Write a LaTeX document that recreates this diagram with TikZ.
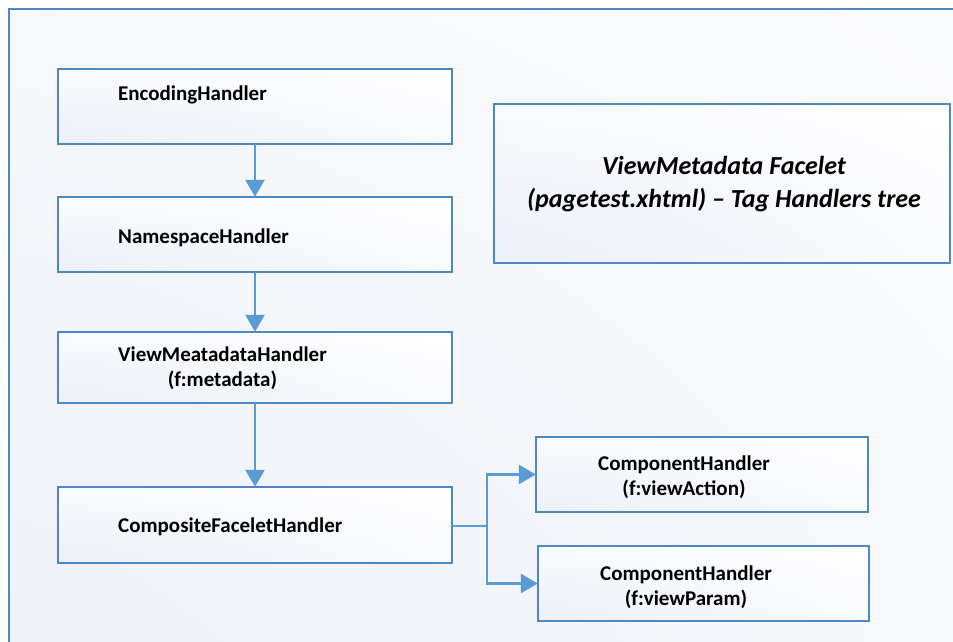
\documentclass[tikz,border=0pt]{standalone}
\usepackage{fontspec}
\setmainfont{Carlito}
\usetikzlibrary{arrows.meta}
\definecolor{lineblue}{HTML}{5B9BD5}
\definecolor{boxedge}{HTML}{4F87C2}
\definecolor{shadeblue}{HTML}{E2E8F4}
\definecolor{frameblue}{HTML}{E6EBF5}
\pgfdeclareradialshading{boxglow}{\pgfpoint{-50bp}{-50bp}}{color(0bp)=(shadeblue); color(75bp)=(white); color(200bp)=(white)}
\pgfdeclareradialshading{frameglow}{\pgfpoint{-50bp}{-50bp}}{color(0bp)=(frameblue); color(90bp)=(white); color(200bp)=(white)}
\tikzset{
  hbox/.style={draw=boxedge, line width=2pt, shading=boxglow},
  lbl/.style={font=\bfseries\fontsize{21}{25}\selectfont, align=center, inner sep=0pt},
  conn/.style={draw=lineblue, line width=2.8pt, -{Triangle[width=19pt,length=17pt]}},
  wire/.style={draw=lineblue, line width=2.8pt},
  anchorbox/.style={inner sep=0pt}
}
\begin{document}
\begin{tikzpicture}[x=1pt,y=-1pt]
\useasboundingbox (0,0) rectangle (953,642);
\begin{scope}
\clip (0,0) rectangle (953,642);
\shade[shading=frameglow] (9,9) rectangle (1000,700);
\draw[boxedge, line width=2pt] (9,9) rectangle (1000,700);
\end{scope}
% boxes
\shade[hbox] (58,69) rectangle (452,144);
\node (enc) [anchorbox, minimum width=394pt, minimum height=75pt] at (255,106.5) {};
\shade[hbox] (58,197) rectangle (452,272);
\node (ns) [anchorbox, minimum width=394pt, minimum height=75pt] at (255,234.5) {};
\shade[hbox] (58,332) rectangle (452,403);
\node (vm) [anchorbox, minimum width=394pt, minimum height=71pt] at (255,367.5) {};
\shade[hbox] (58,487) rectangle (452,563);
\node (cf) [anchorbox, minimum width=394pt, minimum height=76pt] at (255,525) {};
\shade[hbox] (494,104) rectangle (950,263);
\node (title) [anchorbox, minimum width=456pt, minimum height=159pt] at (722,183.5) {};
\shade[hbox] (536,437) rectangle (868,512);
\node (va) [anchorbox, minimum width=332pt, minimum height=75pt] at (702,474.5) {};
\shade[hbox] (538,546) rectangle (869,621);
\node (vp) [anchorbox, minimum width=331pt, minimum height=75pt] at (703.5,583.5) {};
% labels
\node[lbl, anchor=west] (tenc) at (118,95) {EncodingHandler};
\node[lbl, anchor=west] (tns) at (118,238) {NamespaceHandler};
\node[lbl, anchor=west] (tvm) at (118,368) {ViewMeatadataHandler\\(f:metadata)};
\node[lbl, anchor=west] (tcf) at (118,527) {CompositeFaceletHandler};
\node[lbl] (tva) at (684,477) {ComponentHandler\\(f:viewAction)};
\node[lbl] (tvp) at (686,587) {ComponentHandler\\(f:viewParam)};
\node[font=\bfseries\itshape\fontsize{26}{33}\selectfont, align=center, inner sep=0pt] (ttitle) at (724,184) {ViewMetadata Facelet\\(pagetest.xhtml) -- Tag Handlers tree};
% connectors
\draw[conn] (enc.south) -- (ns.north);
\draw[conn] (ns.south) -- (vm.north);
\draw[conn] (vm.south) -- (cf.north);
\coordinate (split) at (487,526);
\draw[wire] (cf.east |- split) -- (split);
\draw[conn] (split) |- (va.west);
\draw[conn] (split) |- (vp.west);
\end{tikzpicture}
\end{document}
